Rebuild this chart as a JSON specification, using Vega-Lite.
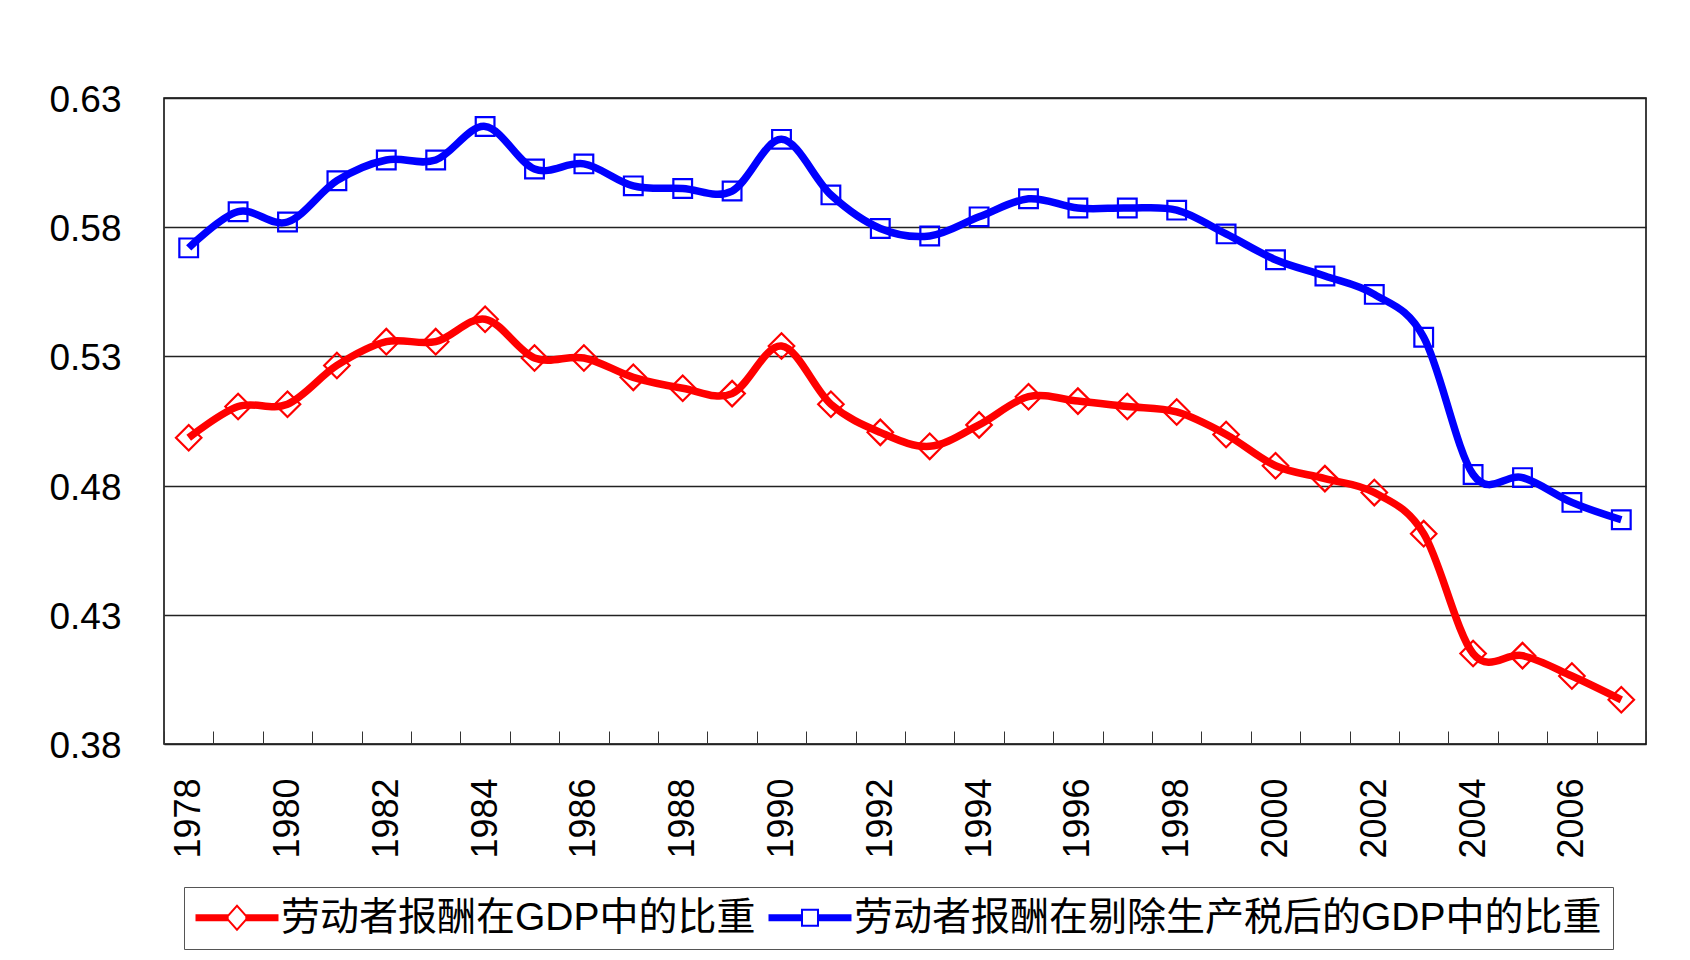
{
  "$schema": "https://vega.github.io/schema/vega-lite/v6.json",
  "autosize": {"type": "none"},
  "width": 1482,
  "height": 646,
  "padding": {"left": 164, "top": 98, "right": 44, "bottom": 216},
  "background": "#ffffff",
  "config": {
    "view": {"stroke": "#000000", "strokeWidth": 1.5},
    "font": "Liberation Sans"
  },
  "data": {
    "values": [
      {"year": 1978, "series": "劳动者报酬在GDP中的比重", "value": 0.4985},
      {"year": 1979, "series": "劳动者报酬在GDP中的比重", "value": 0.5106},
      {"year": 1980, "series": "劳动者报酬在GDP中的比重", "value": 0.5115},
      {"year": 1981, "series": "劳动者报酬在GDP中的比重", "value": 0.5265},
      {"year": 1982, "series": "劳动者报酬在GDP中的比重", "value": 0.5357},
      {"year": 1983, "series": "劳动者报酬在GDP中的比重", "value": 0.5357},
      {"year": 1984, "series": "劳动者报酬在GDP中的比重", "value": 0.5444},
      {"year": 1985, "series": "劳动者报酬在GDP中的比重", "value": 0.5294},
      {"year": 1986, "series": "劳动者报酬在GDP中的比重", "value": 0.5294},
      {"year": 1987, "series": "劳动者报酬在GDP中的比重", "value": 0.5219},
      {"year": 1988, "series": "劳动者报酬在GDP中的比重", "value": 0.5177},
      {"year": 1989, "series": "劳动者报酬在GDP中的比重", "value": 0.5156},
      {"year": 1990, "series": "劳动者报酬在GDP中的比重", "value": 0.534},
      {"year": 1991, "series": "劳动者报酬在GDP中的比重", "value": 0.5115},
      {"year": 1992, "series": "劳动者报酬在GDP中的比重", "value": 0.5006},
      {"year": 1993, "series": "劳动者报酬在GDP中的比重", "value": 0.4952},
      {"year": 1994, "series": "劳动者报酬在GDP中的比重", "value": 0.5035},
      {"year": 1995, "series": "劳动者报酬在GDP中的比重", "value": 0.5144},
      {"year": 1996, "series": "劳动者报酬在GDP中的比重", "value": 0.5127},
      {"year": 1997, "series": "劳动者报酬在GDP中的比重", "value": 0.5106},
      {"year": 1998, "series": "劳动者报酬在GDP中的比重", "value": 0.5085},
      {"year": 1999, "series": "劳动者报酬在GDP中的比重", "value": 0.4998},
      {"year": 2000, "series": "劳动者报酬在GDP中的比重", "value": 0.4877},
      {"year": 2001, "series": "劳动者报酬在GDP中的比重", "value": 0.4827},
      {"year": 2002, "series": "劳动者报酬在GDP中的比重", "value": 0.4773},
      {"year": 2003, "series": "劳动者报酬在GDP中的比重", "value": 0.4614},
      {"year": 2004, "series": "劳动者报酬在GDP中的比重", "value": 0.415},
      {"year": 2005, "series": "劳动者报酬在GDP中的比重", "value": 0.4142},
      {"year": 2006, "series": "劳动者报酬在GDP中的比重", "value": 0.4063},
      {"year": 2007, "series": "劳动者报酬在GDP中的比重", "value": 0.3971},
      {"year": 1978, "series": "劳动者报酬在剔除生产税后的GDP中的比重", "value": 0.572},
      {"year": 1979, "series": "劳动者报酬在剔除生产税后的GDP中的比重", "value": 0.586},
      {"year": 1980, "series": "劳动者报酬在剔除生产税后的GDP中的比重", "value": 0.582},
      {"year": 1981, "series": "劳动者报酬在剔除生产税后的GDP中的比重", "value": 0.598},
      {"year": 1982, "series": "劳动者报酬在剔除生产税后的GDP中的比重", "value": 0.606},
      {"year": 1983, "series": "劳动者报酬在剔除生产税后的GDP中的比重", "value": 0.606},
      {"year": 1984, "series": "劳动者报酬在剔除生产税后的GDP中的比重", "value": 0.619},
      {"year": 1985, "series": "劳动者报酬在剔除生产税后的GDP中的比重", "value": 0.6025},
      {"year": 1986, "series": "劳动者报酬在剔除生产税后的GDP中的比重", "value": 0.6045},
      {"year": 1987, "series": "劳动者报酬在剔除生产税后的GDP中的比重", "value": 0.596},
      {"year": 1988, "series": "劳动者报酬在剔除生产税后的GDP中的比重", "value": 0.595},
      {"year": 1989, "series": "劳动者报酬在剔除生产税后的GDP中的比重", "value": 0.594},
      {"year": 1990, "series": "劳动者报酬在剔除生产税后的GDP中的比重", "value": 0.614},
      {"year": 1991, "series": "劳动者报酬在剔除生产税后的GDP中的比重", "value": 0.5925},
      {"year": 1992, "series": "劳动者报酬在剔除生产税后的GDP中的比重", "value": 0.5795},
      {"year": 1993, "series": "劳动者报酬在剔除生产税后的GDP中的比重", "value": 0.5766},
      {"year": 1994, "series": "劳动者报酬在剔除生产税后的GDP中的比重", "value": 0.584},
      {"year": 1995, "series": "劳动者报酬在剔除生产税后的GDP中的比重", "value": 0.591},
      {"year": 1996, "series": "劳动者报酬在剔除生产税后的GDP中的比重", "value": 0.5874},
      {"year": 1997, "series": "劳动者报酬在剔除生产税后的GDP中的比重", "value": 0.5874},
      {"year": 1998, "series": "劳动者报酬在剔除生产税后的GDP中的比重", "value": 0.5866},
      {"year": 1999, "series": "劳动者报酬在剔除生产税后的GDP中的比重", "value": 0.5774},
      {"year": 2000, "series": "劳动者报酬在剔除生产税后的GDP中的比重", "value": 0.5674},
      {"year": 2001, "series": "劳动者报酬在剔除生产税后的GDP中的比重", "value": 0.5611},
      {"year": 2002, "series": "劳动者报酬在剔除生产税后的GDP中的比重", "value": 0.554},
      {"year": 2003, "series": "劳动者报酬在剔除生产税后的GDP中的比重", "value": 0.5374},
      {"year": 2004, "series": "劳动者报酬在剔除生产税后的GDP中的比重", "value": 0.4843},
      {"year": 2005, "series": "劳动者报酬在剔除生产税后的GDP中的比重", "value": 0.4831},
      {"year": 2006, "series": "劳动者报酬在剔除生产税后的GDP中的比重", "value": 0.4735},
      {"year": 2007, "series": "劳动者报酬在剔除生产税后的GDP中的比重", "value": 0.4668}
    ]
  },
  "encoding": {
    "x": {
      "field": "year",
      "type": "ordinal",
      "title": null,
      "scale": {"type": "band", "paddingInner": 0, "paddingOuter": 0},
      "axis": {
        "domain": false,
        "tickBand": "extent",
        "tickSize": -13,
        "tickColor": "#333333",
        "tickWidth": 1,
        "labelAngle": 270,
        "labelPadding": 47,
        "labelFont": "Liberation Sans",
        "labelFontSize": 36,
        "labelColor": "#000000",
        "labelExpr": "datum.value % 2 === 0 ? datum.label : ''",
        "grid": false
      }
    },
    "y": {
      "field": "value",
      "type": "quantitative",
      "title": null,
      "scale": {"domain": [0.38, 0.63], "nice": false, "zero": false},
      "axis": {
        "values": [0.38, 0.43, 0.48, 0.53, 0.58, 0.63],
        "format": ".2f",
        "domain": false,
        "ticks": false,
        "grid": true,
        "gridColor": "#222222",
        "gridWidth": 1.5,
        "labelPadding": 43,
        "labelOffset": 2.5,
        "labelFont": "Liberation Sans",
        "labelFontSize": 37,
        "labelColor": "#000000"
      }
    },
    "color": {
      "field": "series",
      "type": "nominal",
      "scale": {
        "domain": ["劳动者报酬在GDP中的比重", "劳动者报酬在剔除生产税后的GDP中的比重"],
        "range": ["#ff0000", "#0000ff"]
      },
      "legend": {
        "title": null,
        "orient": "none",
        "legendX": 20,
        "legendY": 789,
        "direction": "horizontal",
        "columns": 2,
        "labelFont": "Liberation Sans, Noto Sans CJK SC",
        "labelFontSize": 39,
        "labelColor": "#000000",
        "labelLimit": 0,
        "labelOffset": 47,
        "columnPadding": 12,
        "padding": 11,
        "strokeColor": "#555555",
        "fillColor": "#ffffff",
        "symbolSize": 1444,
        "symbolStrokeWidth": 0,
        "symbolOpacity": 1
      }
    }
  },
  "layer": [
    {
      "mark": {"type": "line", "interpolate": "cardinal", "strokeWidth": 7.5, "strokeCap": "butt", "strokeJoin": "round"}
    },
    {
      "transform": [{"filter": "datum.series === '劳动者报酬在GDP中的比重'"}],
      "mark": {"type": "point", "shape": "diamond", "filled": false, "size": 650, "strokeWidth": 2.2, "opacity": 1}
    },
    {
      "transform": [{"filter": "datum.series === '劳动者报酬在剔除生产税后的GDP中的比重'"}],
      "mark": {"type": "point", "shape": "square", "filled": false, "size": 350, "strokeWidth": 2.2, "opacity": 1}
    },
    {
      "mark": {"type": "point", "filled": true, "opacity": 0, "size": 10},
      "encoding": {
        "shape": {
          "field": "series",
          "type": "nominal",
          "scale": {
            "domain": ["劳动者报酬在GDP中的比重", "劳动者报酬在剔除生产税后的GDP中的比重"],
            "range": [
              "M-1,-0.184H0.747V0.184H-1Z M1.621,-0.184H3.368V0.184H1.621Z M1.184,-0.711L1.816,0L1.184,0.711L0.552,0Z M1.184,-0.553L0.69,0L1.184,0.553L1.678,0Z",
              "M-1,-0.184H0.764V0.184H-1Z M1.604,-0.184H3.368V0.184H1.604Z M0.71,-0.474H1.658V0.474H0.71Z M0.816,-0.368V0.368H1.552V-0.368Z"
            ]
          },
          "legend": {
            "title": null,
            "orient": "none",
            "legendX": 20,
            "legendY": 789,
            "direction": "horizontal",
            "columns": 2,
            "labelFont": "Liberation Sans, Noto Sans CJK SC",
            "labelFontSize": 39,
            "labelColor": "#000000",
            "labelLimit": 0,
            "labelOffset": 47,
            "columnPadding": 12,
            "padding": 11,
            "strokeColor": "#555555",
            "fillColor": "#ffffff",
            "symbolSize": 1444,
            "symbolStrokeWidth": 0,
            "symbolOpacity": 1
          }
        }
      }
    }
  ]
}
